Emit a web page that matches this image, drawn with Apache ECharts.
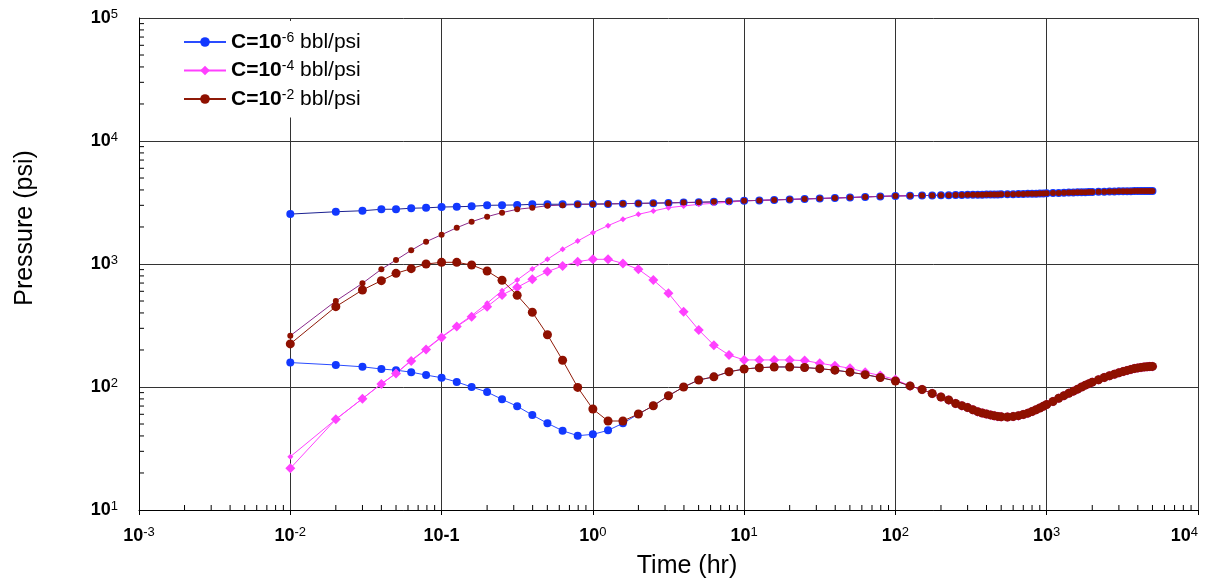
<!DOCTYPE html>
<html>
<head>
<meta charset="utf-8">
<script src="https://cdn.jsdelivr.net/npm/echarts@6/dist/echarts.min.js"></script>
<style>
  html, body { margin: 0; padding: 0; background: #fff; }
  #main { width: 1208px; height: 586px; }
</style>
</head>
<body>
<div id="main"></div>
<script>
// time steps (hr) up to 100 hr, then the dense late-time steps shared by all curves
var hours = [0.01, 0.02, 0.03, 0.04, 0.05, 0.063, 0.079, 0.1, 0.126, 0.158, 0.2, 0.251, 0.316, 0.398, 0.501, 0.631, 0.794, 1,
  1.26, 1.58, 2, 2.51, 3.16, 3.98, 5.01, 6.31, 7.94, 10, 12.6, 15.8, 20, 25.1, 31.6, 39.8, 50.1, 63.1, 79.4, 100];
var tailHours = [125, 150, 175, 200, 225, 250, 275, 300, 325, 350, 375, 400, 425, 450, 475, 500,
  550, 600, 650, 700, 750, 800, 850, 900, 950, 1000,
  1100, 1200, 1300, 1400, 1500, 1600, 1700, 1800, 1900, 2000,
  2200, 2400, 2600, 2800, 3000, 3200, 3400, 3600, 3800, 4000, 4200, 4400, 4600, 4800, 5000];

// pressure (psi)
var bluePressure = [2546, 2660, 2710, 2785, 2790, 2840, 2860, 2905, 2920, 2945, 3000, 3010, 3020, 3055, 3060, 3060, 3065, 3070,
  3080, 3095, 3110, 3125, 3140, 3160, 3175, 3200, 3230, 3265, 3290, 3320, 3350, 3380, 3410, 3440, 3470, 3510, 3545, 3575];
var magentaPressure = [27.1, 54.6, 80.4, 106, 129, 165, 204, 256, 313, 380, 479, 607, 741, 912, 1092, 1316, 1538, 1797,
  2050, 2309, 2535, 2698, 2870, 2963, 3055, 3117, 3177, 3265, 3290, 3320, 3350, 3380, 3410, 3440, 3470, 3510, 3545, 3575];
var redPressure = [261, 500, 697, 906, 1078, 1292, 1517, 1730, 1972, 2207, 2425, 2615, 2785, 2870, 2980, 3010, 3050, 3062,
  3080, 3095, 3110, 3125, 3140, 3160, 3175, 3200, 3230, 3265, 3290, 3320, 3350, 3380, 3410, 3440, 3470, 3510, 3545, 3575];
var tailPressure = [3590, 3600, 3610, 3620, 3628, 3635, 3642, 3648, 3653, 3658, 3663, 3668, 3672, 3676, 3680, 3684,
  3690, 3697, 3704, 3711, 3718, 3725, 3732, 3740, 3748, 3756,
  3770, 3783, 3795, 3806, 3816, 3825, 3833, 3840, 3847, 3853,
  3864, 3874, 3882, 3889, 3895, 3900, 3905, 3909, 3913, 3916, 3919, 3921, 3923, 3925, 3927];

// pressure derivative (psi)
var blueDerivative = [158, 151, 146, 140, 137, 132, 125, 119, 110, 100, 91, 79.4, 69.7, 59.2, 50.7, 44.1, 40.2, 41.2,
  44.4, 50.7, 60.3, 70.4, 84.9, 100, 114, 121, 133, 140, 143.5, 145.5, 145.5, 144, 141, 137, 132, 126, 119.5, 112];
var magentaDerivative = [21.8, 54.6, 80.4, 106, 129, 163, 202, 253, 310, 373, 450, 560, 646, 751, 867, 964, 1045, 1092,
  1092, 1011, 906, 741, 578, 409, 291, 219, 182, 166, 166, 166, 166, 164, 156, 149, 142, 132, 124, 115];
var redDerivative = [224, 450, 615, 732, 840, 916, 1000, 1032, 1032, 982, 877, 737, 557, 405, 266, 165, 99.3, 66.2,
  52.9, 52.9, 60.3, 70.4, 84.9, 100, 114, 121, 133, 140, 143.5, 145.5, 145.5, 144, 141, 137, 132, 126, 119.5, 112];
var tailDerivative = [102, 95.5, 88.5, 83, 78.5, 73.5, 70.5, 68, 65.3, 63, 61.5, 60.2, 59.3, 58.3, 57.7, 57.3,
  57, 57.5, 58.5, 59.8, 61.3, 63.2, 65.3, 67.5, 69.8, 72,
  76.3, 81, 85, 89, 92.5, 96, 100, 103.5, 106.5, 109.5,
  114.5, 119.5, 123.5, 127, 130.5, 133.5, 136.5, 139, 141.5, 143, 144.3, 145.3, 146, 146.7, 147];

var seriesNames = ['C=10^-6 bbl/psi', 'C=10^-4 bbl/psi', 'C=10^-2 bbl/psi'];
var xTickLabels = ['10^-3', '10^-2', '10-1', '10^0', '10^1', '10^2', '10^3', '10^4'];
var yTickLabels = ['10^1', '10^2', '10^3', '10^4', '10^5'];

var FONT = 'Arial, "Liberation Sans", sans-serif';

function pairs(early, tail) {
  var t = hours.concat(tailHours), v = early.concat(tail);
  return t.map(function (x, i) { return [x, v[i]]; });
}
function richTick(s) {
  var i = s.indexOf('^');
  if (i < 0) return '{b|' + s + '}';
  return '{b|' + s.slice(0, i) + '}{s|' + s.slice(i + 1) + '}';
}
function richLegend(name) {
  var i = name.indexOf('^'), j = name.indexOf(' ');
  return '{b|' + name.slice(0, i) + '}{s|' + name.slice(i + 1, j) + '}{n|' + name.slice(j) + '}';
}

// minor ticks 2..9 inside every decade
var xMinor = [], yMinor = [];
for (var k = -3; k < 4; k++) for (var m = 2; m < 10; m++) xMinor.push([m * Math.pow(10, k), 10]);
for (var k2 = 1; k2 < 5; k2++) for (var m2 = 2; m2 < 10; m2++) yMinor.push([0.001, m2 * Math.pow(10, k2)]);

var tickRich = {
  b: { fontFamily: FONT, fontSize: 18, fontWeight: 'bold', color: '#000', lineHeight: 20 },
  s: { fontFamily: FONT, fontSize: 13, color: '#000', lineHeight: 13, verticalAlign: 'top' }
};

function lineSeries(name, data, color, lineColor, symbol, size) {
  return {
    name: name, type: 'line', data: data, symbol: symbol, symbolSize: size,
    showSymbol: true, showAllSymbol: true,
    itemStyle: { color: color },
    lineStyle: { color: lineColor, width: 1 },
    emphasis: { disabled: true }
  };
}

var myChart = echarts.init(document.getElementById('main'));
var option = {
  animation: false,
  grid: { left: 139, right: 10, top: 18, bottom: 76, containLabel: false, outerBoundsMode: 'none' },
  legend: {
    data: seriesNames,
    orient: 'vertical',
    left: 173, top: 21,
    padding: [10, 14, 8, 10],
    backgroundColor: '#fff',
    itemWidth: 42, itemHeight: 12, itemGap: 7,
    formatter: richLegend,
    textStyle: {
      rich: {
        b: { fontFamily: FONT, fontSize: 21, fontWeight: 'bold', color: '#000', lineHeight: 22 },
        s: { fontFamily: FONT, fontSize: 14, color: '#000', lineHeight: 13, verticalAlign: 'top' },
        n: { fontFamily: FONT, fontSize: 21, color: '#000', lineHeight: 22 }
      }
    }
  },
  xAxis: {
    type: 'log', logBase: 10, min: 0.001, max: 10000,
    axisLine: { lineStyle: { color: '#000', width: 1 } },
    axisTick: { show: true, inside: false, length: 5, lineStyle: { color: '#000' } },
    splitLine: { show: true, lineStyle: { color: '#333', width: 1 } },
    axisLabel: {
      margin: 16,
      alignMaxLabel: 'right',
      formatter: function (v) { return richTick(xTickLabels[Math.round(Math.log10(v)) + 3]); },
      rich: tickRich
    }
  },
  yAxis: {
    type: 'log', logBase: 10, min: 10, max: 100000,
    axisLine: { show: true, lineStyle: { color: '#000', width: 1 } },
    axisTick: { show: false },
    splitLine: { show: true, lineStyle: { color: '#333', width: 1 } },
    axisLabel: {
      margin: 21,
      formatter: function (v) { return richTick(yTickLabels[Math.round(Math.log10(v)) - 1]); },
      rich: tickRich
    }
  },
  graphic: [
    { type: 'text', x: 687, y: 566, silent: true,
      style: { text: 'Time (hr)', font: '25px ' + FONT, fill: '#000', textAlign: 'center', textVerticalAlign: 'middle' } },
    { type: 'text', x: 25, y: 228, rotation: Math.PI / 2, silent: true,
      style: { text: 'Pressure (psi)', font: '25px ' + FONT, fill: '#000', textAlign: 'center', textVerticalAlign: 'middle' } }
  ],
  series: [
    lineSeries(seriesNames[0], pairs(blueDerivative, tailDerivative), '#1238ff', '#2a4cff', 'circle', 8),
    lineSeries(seriesNames[0], pairs(bluePressure, tailPressure), '#1238ff', '#1a2090', 'circle', 8),
    lineSeries(seriesNames[1], pairs(magentaDerivative, tailDerivative), '#ff40ff', '#ff40ff', 'diamond', 10),
    lineSeries(seriesNames[1], pairs(magentaPressure, tailPressure), '#ff40ff', '#ff40ff', 'diamond', 6),
    lineSeries(seriesNames[2], pairs(redDerivative, tailDerivative), '#8f1000', '#8f1a08', 'circle', 9),
    lineSeries(seriesNames[2], pairs(redPressure, tailPressure), '#8f1000', '#8a2a8a', 'circle', 6),
    {
      type: 'custom', silent: true, z: 3, data: xMinor,
      renderItem: function (params, api) {
        var p = api.coord([api.value(0), api.value(1)]);
        return { type: 'line', shape: { x1: p[0], y1: p[1], x2: p[0], y2: p[1] - 5 }, style: { stroke: '#000', lineWidth: 1 } };
      }
    },
    {
      type: 'custom', silent: true, z: 3, data: yMinor,
      renderItem: function (params, api) {
        var p = api.coord([api.value(0), api.value(1)]);
        return { type: 'line', shape: { x1: p[0], y1: p[1], x2: p[0] + 5, y2: p[1] }, style: { stroke: '#000', lineWidth: 1 } };
      }
    }
  ]
};
myChart.setOption(option);

window.onresize = function () {
  myChart.resize();
};
</script>
</body>
</html>
